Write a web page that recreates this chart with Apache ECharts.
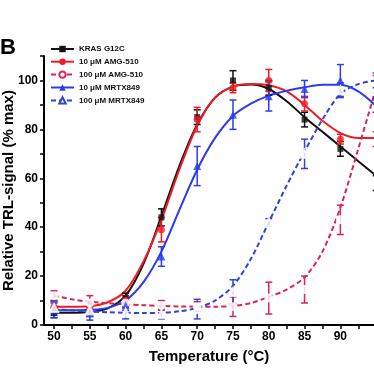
<!DOCTYPE html>
<html>
<head>
<meta charset="utf-8">
<script src="https://cdn.jsdelivr.net/npm/echarts@6/dist/echarts.min.js"></script>
<style>html,body{margin:0;padding:0;background:#fff;}#c{width:374px;height:374px;}</style>
</head>
<body>
<div id="c"></div>
<script>
// ---- data ----
const seriesNames = ['KRAS G12C', '10 \u03bcM AMG-510', '100 \u03bcM AMG-510', '10 \u03bcM MRTX849', '100 \u03bcM MRTX849'];
const temps = [50, 55, 60, 65, 70, 75, 80, 85, 90, 95];
const kras      = [5, 5.5, 11, 44, 85, 100, 97, 84, 72, 58];
const krasErr   = [2, 2, 2, 3.5, 3, 4, 3, 3, 3, 3];
const amg10     = [7.5, 7, 10, 39, 84, 97, 100, 90.5, 76, 76];
const amg10Err  = [2, 2, 2, 5, 5, 2, 4.5, 3, 2, 3];
const amg100    = [12, 9, 9, 8, 7.5, 7.5, 11, 14.5, 43, 97];
const amg100Err = [2, 3, 2, 2, 2, 4, 6.5, 5.5, 6, 5];
const mrtx10    = [6, 5.5, 8, 28, 65, 86, 93.5, 96.5, 100, 90];
const mrtx10Err = [3, 3.5, 2, 4, 8, 6, 6, 3.5, 6.5, 3];
const mrtx100   = [7, 6, 5, 4.5, 6.5, 13.5, 42, 70, 96, 100];
const mrtx100Err= [3, 2.5, 2.5, 2, 4, 5, 1.5, 6, 3, 3];

// fitted curves at these temperatures
const fitT       = [50, 52.5, 55, 57.5, 60, 62.5, 65, 67.5, 70, 72.5, 75, 77.5, 80, 82.5, 85, 87.5, 90, 92.5, 95];
const krasFit    = [5, 5, 5.3, 6.8, 12, 25, 44.5, 65, 82, 93, 97.5, 98.3, 96.5, 91.5, 85, 79, 73, 67, 61];
const amg10Fit   = [7.5, 7.5, 7.7, 9.3, 14, 26, 43, 63.5, 81.5, 93, 97.5, 98.5, 98, 95.5, 90, 83.5, 78.5, 76.5, 76.5];
const amg100Fit  = [12, 10.5, 9.5, 8.9, 8.5, 8.1, 7.8, 7.6, 7.5, 7.5, 7.8, 9, 11.5, 14.5, 19.5, 30, 48, 72, 97];
const mrtx10Fit  = [6, 6, 6.2, 7, 10, 17.5, 30, 47, 63.5, 76.5, 85.5, 90.5, 93.8, 95.8, 97.2, 98.2, 98.2, 95.5, 89.5];
const mrtx100Fit = [6.5, 6, 5.5, 5.2, 5, 4.9, 5, 5.6, 7, 10, 16, 27, 42, 57, 71, 84, 94.5, 98.5, 100];

const xLabels = [50, 55, 60, 65, 70, 75, 80, 85, 90];
const xTicks = [50, 52.5, 55, 57.5, 60, 62.5, 65, 67.5, 70, 72.5, 75, 77.5, 80, 82.5, 85, 87.5, 90, 92.5];
const yLabels = [0, 20, 40, 60, 80, 100];
const yTicks = [0, 10, 20, 30, 40, 50, 60, 70, 80, 90, 100, 110];

// ---- styling ----
const FONT = 'Liberation Sans, Arial, sans-serif';
const cfg = [
  {vals: kras, err: krasErr, fit: krasFit, color: '#111111', symbol: 'rect', size: 6, dashed: false, hollow: false},
  {vals: amg10, err: amg10Err, fit: amg10Fit, color: '#f01c24', symbol: 'circle', size: 7, dashed: false, hollow: false},
  {vals: amg100, err: amg100Err, fit: amg100Fit, color: '#dc2256', symbol: 'emptyCircle', size: 7, dashed: true, hollow: true},
  {vals: mrtx10, err: mrtx10Err, fit: mrtx10Fit, color: '#2b3bef', symbol: 'triangle', size: 8, dashed: false, hollow: false},
  {vals: mrtx100, err: mrtx100Err, fit: mrtx100Fit, color: '#3443d6', symbol: 'emptyTriangle', size: 8, dashed: true, hollow: true}
];

function errRender(color) {
  return function (params, api) {
    const x = api.value(0), lo = api.value(1), hi = api.value(2);
    const p1 = api.coord([x, hi]), p2 = api.coord([x, lo]);
    const w = 3.5;
    const st = {stroke: color, lineWidth: 1.5};
    return {type: 'group', children: [
      {type: 'line', shape: {x1: p1[0], y1: p1[1], x2: p2[0], y2: p2[1]}, style: st},
      {type: 'line', shape: {x1: p1[0] - w, y1: p1[1], x2: p1[0] + w, y2: p1[1]}, style: st},
      {type: 'line', shape: {x1: p2[0] - w, y1: p2[1], x2: p2[0] + w, y2: p2[1]}, style: st}
    ]};
  };
}

const series = [];
cfg.forEach((c, k) => {
  series.push({
    name: seriesNames[k], type: 'line', smooth: 0.3,
    symbol: c.symbol, symbolSize: c.size, showSymbol: false, silent: true, z: 2,
    data: fitT.map((t, i) => [t, c.fit[i]]),
    itemStyle: c.hollow ? {color: c.color, borderColor: c.color} : {color: c.color},
    lineStyle: {color: c.color, width: 2, type: c.dashed ? [5, 3] : 'solid'}
  });
});
cfg.forEach((c, k) => {
  series.push({
    name: 'err' + k, type: 'custom', z: 3, renderItem: errRender(c.color), clip: true,
    encode: {x: 0, y: [1, 2]},
    data: temps.map((t, i) => [t, c.vals[i] - c.err[i], c.vals[i] + c.err[i]])
  });
  series.push({
    name: 'pts' + k, type: 'scatter', z: 4, symbol: c.symbol, symbolSize: c.size, clip: true,
    data: temps.map((t, i) => [t, c.vals[i]]),
    itemStyle: c.hollow ? {color: '#fff', borderColor: c.color, borderWidth: 1.5} : {color: c.color}
  });
});

const chart = echarts.init(document.getElementById('c'), null, {renderer: 'canvas'});
chart.setOption({
  animation: false,
  backgroundColor: '#fff',
  title: {text: 'B', left: 0, top: 37, padding: 0, textStyle: {fontFamily: FONT, fontWeight: 'bold', fontSize: 22, color: '#000'}},
  legend: {
    data: seriesNames, orient: 'vertical', left: 50, top: 45, padding: 0,
    itemWidth: 23, itemHeight: 8, itemGap: 4.7,
    textStyle: {fontFamily: FONT, fontWeight: 'bold', fontSize: 8, lineHeight: 8, color: '#111'}
  },
  grid: {left: 44, top: 56, right: 0, bottom: 49, containLabel: false, outerBoundsMode: 'none'},
  xAxis: {
    type: 'value', min: 48.6, max: 94.7,
    name: 'Temperature (\u00b0C)', nameLocation: 'middle', nameGap: 24, nameMoveOverlap: false,
    nameTextStyle: {fontFamily: FONT, fontWeight: 'bold', fontSize: 15, color: '#000'},
    axisLine: {show: true, lineStyle: {color: '#000', width: 2}},
    axisTick: {show: true, inside: false, length: 4, customValues: xTicks, lineStyle: {color: '#000', width: 1.5}},
    axisLabel: {customValues: xLabels, margin: 6, fontFamily: FONT, fontWeight: 'bold', fontSize: 12, color: '#000'},
    splitLine: {show: false}
  },
  yAxis: {
    type: 'value', min: 0, max: 110,
    name: 'Relative TRL-signal (% max)', nameLocation: 'middle', nameGap: 28, nameMoveOverlap: false,
    nameTextStyle: {fontFamily: FONT, fontWeight: 'bold', fontSize: 15, color: '#000'},
    axisLine: {show: true, lineStyle: {color: '#000', width: 2}},
    axisTick: {show: true, inside: false, length: 4, customValues: yTicks, lineStyle: {color: '#000', width: 1.5}},
    axisLabel: {customValues: yLabels, margin: 6, fontFamily: FONT, fontWeight: 'bold', fontSize: 12, color: '#000'},
    splitLine: {show: false}
  },
  series: series
});
</script>
</body>
</html>
